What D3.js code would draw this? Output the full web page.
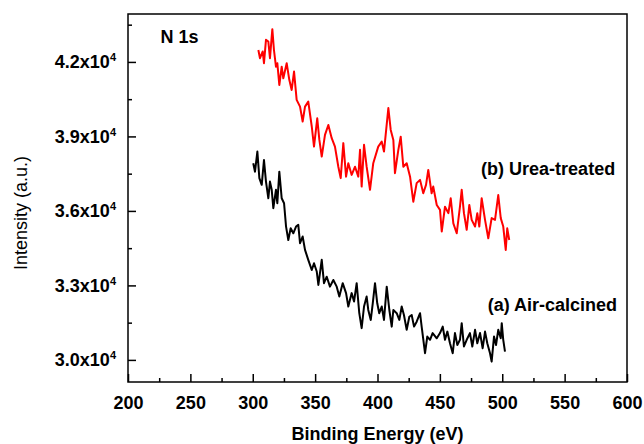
<!DOCTYPE html>
<meta charset="utf-8">
<style>
    body { margin: 0; background: #fff; }
    .axis path { display: none; }
    .axis line { stroke: #000; stroke-width: 1.5px; }
    .axis text { font: bold 18px "Liberation Sans", Arial, sans-serif; fill: #000; }
    .line { fill: none; stroke-width: 2px; stroke-linejoin: round; }
    .label { font: bold 18px "Liberation Sans", Arial, sans-serif; fill: #000; }
</style>
<title>N 1s</title>
<script src="https://d3js.org/d3.v7.min.js"></script>
<body>
<script>
    // (b) Urea-treated, red
    var ureaEnergy = [
        304.5, 305.8, 308.0, 309.0, 310.6, 312.5, 313.8, 315.7, 317.0, 318.6,
        319.7, 321.3, 323.2, 324.5, 327.2, 329.3, 331.2, 333.1, 335.2, 337.9,
        340.0, 341.9, 344.5, 347.3, 349.1, 351.7, 353.4, 355.3, 357.9, 360.6,
        363.3, 365.9, 368.6, 370.5, 372.6, 374.8, 376.6, 379.3, 382.0, 384.6,
        386.0, 387.3, 389.2, 391.3, 394.0, 396.6, 400.6, 403.4, 405.2, 408.7,
        410.6, 412.7, 414.0, 416.7, 418.6, 420.7, 423.4, 426.1, 428.7, 431.4,
        434.1, 436.7, 438.9, 440.7, 443.4, 444.7, 447.5, 450.1, 451.5, 454.1,
        456.8, 458.7, 460.8, 463.5, 466.1, 467.5, 469.3, 471.5, 473.6, 475.5,
        478.2, 480.0, 481.6, 483.5, 486.2, 488.8, 491.5, 494.2, 496.8, 498.8,
        500.8, 502.8, 504.0, 505.6];
    var ureaIntensity = [
        42480, 42150, 42420, 41950, 42890, 42820, 42150, 43320, 42480, 41810,
        41950, 41070, 41810, 41340, 41950, 41280, 40870, 41610, 40470, 40200,
        39600, 40200, 40400, 39400, 38590, 39730, 38860, 38190, 39060, 39460,
        38930, 38590, 37780, 37320, 38730, 37380, 37920, 37450, 37780, 37380,
        38460, 36980, 38660, 37780, 36850, 37920, 38590, 38790, 38390, 40140,
        39260, 38860, 37520, 38460, 38990, 37780, 37920, 37380, 36370, 37120,
        37250, 36710, 37050, 37650, 36710, 36980, 36240, 36040, 35170, 36170,
        35910, 36510, 35500, 35100, 36170, 36850, 35910, 35240, 36240, 35640,
        35370, 35910, 35370, 36510, 35640, 34900, 35710, 35640, 36640, 35710,
        35370, 34430, 35300, 34830];

    // (a) Air-calcined, black
    var airEnergy = [
        300.4, 301.8, 303.7, 305.3, 307.2, 309.0, 310.6, 312.5, 313.8, 315.2,
        316.5, 318.6, 319.7, 321.3, 323.2, 325.1, 326.7, 328.5, 330.4, 332.5,
        334.7, 336.5, 337.9, 340.0, 341.9, 344.5, 347.3, 349.1, 351.3, 352.6,
        355.3, 357.1, 359.3, 361.9, 364.6, 367.3, 369.4, 372.1, 374.8, 376.6,
        379.3, 381.2, 383.3, 385.4, 387.3, 389.2, 391.3, 392.6, 394.6, 396.2,
        398.0, 399.8, 401.4, 403.4, 405.2, 407.4, 409.5, 411.4, 412.7, 415.4,
        417.5, 419.4, 421.2, 423.4, 425.5, 427.4, 429.3, 431.4, 434.1, 435.4,
        438.1, 439.9, 442.1, 444.2, 447.5, 450.1, 452.3, 454.1, 456.0, 458.1,
        460.3, 462.1, 464.0, 466.1, 467.5, 469.3, 471.5, 474.1, 476.0, 478.2,
        480.0, 482.2, 484.3, 486.2, 488.0, 490.2, 491.5, 493.4, 495.0, 496.8,
        498.8, 499.6, 500.8, 502.2];
    var airIntensity = [
        37920, 37580, 38390, 37320, 37050, 38050, 37180, 36510, 37180, 36850,
        36110, 36850, 36310, 37580, 36510, 36310, 35370, 34830, 35300, 35100,
        35370, 35440, 34700, 34970, 34430, 34030, 33620, 33890, 33560, 33020,
        34030, 33090, 33350, 32950, 33220, 32950, 32550, 33090, 32690, 32150,
        32690, 32350, 33090, 31880, 31280, 32150, 32550, 32010, 31610, 32280,
        33090, 32280, 31880, 32150, 31610, 32950, 32010, 31340, 32010, 31880,
        31610, 32150, 31810, 31210, 31740, 31810, 31340, 31540, 31880, 31340,
        30270, 30940, 30810, 31080, 30870, 31080, 31340, 30810, 31140, 30670,
        30270, 31080, 30600, 30810, 31480, 30540, 30810, 31080, 30540, 31210,
        30670, 31080, 30470, 31140, 30670, 30270, 29930, 30940, 30600, 31210,
        30870, 31480, 30810, 30330];

    var xTicks = [200, 250, 300, 350, 400, 450, 500, 550, 600];
    var xMinorTicks = [225, 275, 325, 375, 425, 475, 525, 575];
    var yTicks = [30000, 33000, 36000, 39000, 42000];
    var yMinorTicks = [31500, 34500, 37500, 40500, 43500];
    var yTickLabels = ["3.0", "3.3", "3.6", "3.9", "4.2"];

    var canvasWidth = 644;
    var canvasHeight = 444;

    var svg = d3.select("body").append("svg")
            .attr("width", canvasWidth)
            .attr("height", canvasHeight),
        margin = {top: 14, right: 17, bottom: 62, left: 128},
        width = canvasWidth - margin.left - margin.right,
        height = canvasHeight - margin.top - margin.bottom,
        g = svg.append("g").attr("transform", "translate(" + margin.left + "," + margin.top + ")");

    var x = d3.scaleLinear().domain([200, 600]).range([0, width]),
        y = d3.scaleLinear().domain([29110, 43930]).range([height, 0]);

    var line = d3.line()
        .x(function(d) { return x(d.energy); })
        .y(function(d) { return y(d.intensity); });

    function toPoints(energy, intensity) {
        return energy.map(function(e, i) { return {energy: e, intensity: intensity[i]}; });
    }

    var series = [
        {id: "urea", color: "#ff0000", values: toPoints(ureaEnergy, ureaIntensity)},
        {id: "air", color: "#000000", values: toPoints(airEnergy, airIntensity)}
    ];

    // ticks point inward
    g.append("g")
        .attr("class", "axis axis--x")
        .attr("transform", "translate(0," + height + ")")
        .call(d3.axisBottom(x).tickValues(xTicks).tickSize(-8).tickPadding(14));

    g.append("g")
        .attr("class", "axis axis--x-minor")
        .attr("transform", "translate(0," + height + ")")
        .call(d3.axisBottom(x).tickValues(xMinorTicks).tickSize(-4).tickFormat(""));

    var yAxis = g.append("g")
        .attr("class", "axis axis--y")
        .call(d3.axisLeft(y).tickValues(yTicks).tickSize(-8).tickPadding(12));

    yAxis.selectAll(".tick text")
        .text(null)
        .each(function(d, i) {
            var t = d3.select(this);
            t.append("tspan").text(yTickLabels[i] + "x10");
            t.append("tspan").attr("dy", -7).style("font-size", "11px").text("4");
        });

    g.append("g")
        .attr("class", "axis axis--y-minor")
        .call(d3.axisLeft(y).tickValues(yMinorTicks).tickSize(-4).tickFormat(""));

    g.selectAll(".series")
        .data(series)
        .enter().append("path")
        .attr("class", "line")
        .attr("d", function(d) { return line(d.values); })
        .style("stroke", function(d) { return d.color; });

    g.append("rect")
        .attr("width", width)
        .attr("height", height)
        .attr("fill", "none")
        .attr("stroke", "#000")
        .attr("stroke-width", 1.5);

    g.append("text")
        .attr("class", "label")
        .attr("x", x(226))
        .attr("y", y(42770))
        .text("N 1s");

    g.append("text")
        .attr("class", "label")
        .attr("text-anchor", "end")
        .attr("x", x(590.5))
        .attr("y", y(37450))
        .text("(b) Urea-treated");

    g.append("text")
        .attr("class", "label")
        .attr("text-anchor", "end")
        .attr("x", x(592))
        .attr("y", y(31950))
        .text("(a) Air-calcined");

    svg.append("text")
        .attr("class", "label")
        .attr("text-anchor", "middle")
        .attr("x", margin.left + width / 2)
        .attr("y", 440)
        .text("Binding Energy (eV)");

    svg.append("text")
        .attr("text-anchor", "middle")
        .attr("transform", "translate(27," + (margin.top + height / 2 + 15) + ") rotate(-90)")
        .style("font", "18px 'Liberation Sans', Arial, sans-serif")
        .text("Intensity (a.u.)");
</script>
</body>
